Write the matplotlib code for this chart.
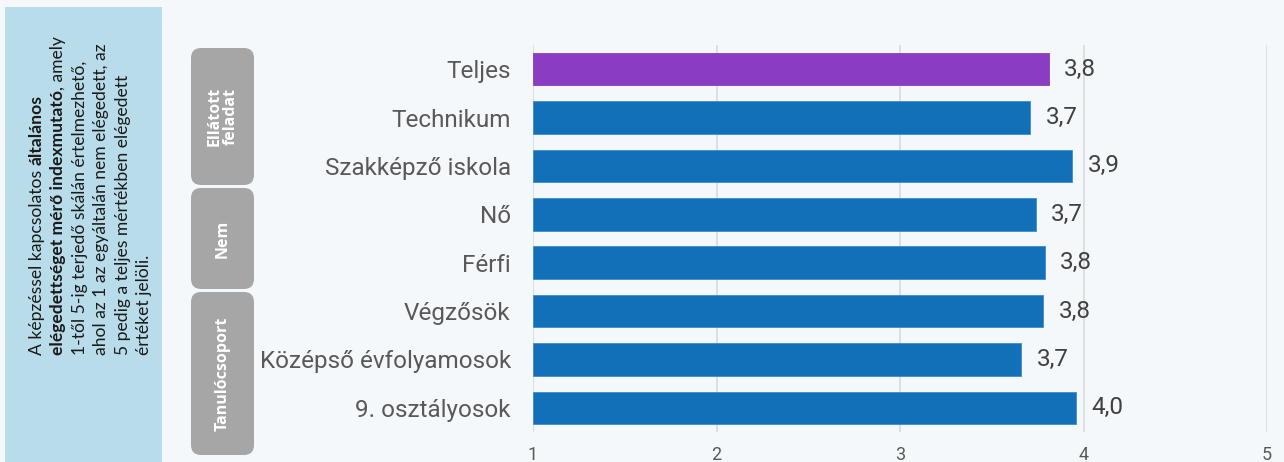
import matplotlib
matplotlib.use("Agg")
import matplotlib.pyplot as plt
from matplotlib.patches import FancyBboxPatch, Rectangle

# ---- data ----
categories = ["Teljes", "Technikum", "Szakképző iskola", "Nő", "Férfi",
              "Végzősök", "Középső évfolyamosok", "9. osztályosok"]
values = [3.81, 3.71, 3.94, 3.74, 3.79, 3.78, 3.66, 3.96]
bar_colors = ["#8a3cc3"] + ["#1170b8"] * 7
x_ticks = [1, 2, 3, 4, 5]
groups = ["Ellátott\nfeladat", "Nem", "Tanulócsoport"]

note_lines = [
    [("A képzéssel kapcsolatos ", "normal"), ("általános", "bold")],
    [("elégedettséget mérő indexmutató", "bold"), (", amely", "normal")],
    [("1-től 5-ig terjedő skálán értelmezhető,", "normal")],
    [("ahol az 1 az egyáltalán nem elégedett, az", "normal")],
    [("5 pedig a teljes mértékben elégedett", "normal")],
    [("értéket jelöli.", "normal")],
]

W, H = 1284, 462
BG = "#f5f8fa"
fig = plt.figure(figsize=(W / 100, H / 100), dpi=100, facecolor=BG)

# background / decoration axes in pixel coordinates
bg = fig.add_axes([0, 0, 1, 1])
bg.set_xlim(0, W)
bg.set_ylim(H, 0)
bg.axis("off")
bg.set_facecolor(BG)

# left note box
bg.add_patch(Rectangle((5, 7), 157, 460, facecolor="#b9dcea", edgecolor="none"))
line_x = [37, 58.5, 80, 101.5, 123, 144.5]
NOTE_FS = 12.6
for lx, parts in zip(line_x, note_lines):
    prev = None
    for txt, wt in parts:
        if prev is None:
            prev = bg.text(lx, 355, txt, rotation=90, ha="center", va="bottom",
                           fontsize=NOTE_FS, fontweight=wt, family="Lato",
                           color="#1a1a1a")
        else:
            prev = bg.annotate(txt, xy=(0, 1), xycoords=prev, rotation=90,
                               ha="left", va="bottom", fontsize=NOTE_FS,
                               fontweight=wt, family="Lato", color="#1a1a1a")

# grey group boxes
box_spans = [(48, 185), (188, 289), (292, 455)]
for (y0, y1), g in zip(box_spans, groups):
    bg.add_patch(FancyBboxPatch((191, y0), 63, (y1 - y0),
                                boxstyle="round,pad=0,rounding_size=10",
                                facecolor="#a6a6a6", edgecolor="none"))
    bg.text(222.5, (y0 + y1) / 2, g, rotation=90, ha="center", va="center",
            fontsize=11.5, fontweight="bold", color="white", family="Open Sans",
            linespacing=1.0, multialignment="center")

# main bar axes
ax = fig.add_axes([533 / W, 1 - 432 / H, (1267 - 533) / W, (432 - 45) / H])
ax.set_facecolor("none")
ypos = list(range(len(categories)))
ax.barh(ypos, [v - 1 for v in values], left=1, height=0.67, color=bar_colors,
        edgecolor=[c if i == 0 else "#3d8ccb" for i, c in enumerate(bar_colors)],
        linewidth=0.6, zorder=3)
ax.set_xlim(1, 5)
ax.set_ylim(len(categories) - 0.5, -0.5)
ax.set_xticks(x_ticks)
ax.set_xticklabels([str(t) for t in x_ticks], fontsize=13, color="#595959",
                   family="Roboto")
ax.set_yticks(ypos)
ax.set_yticklabels(categories, fontsize=17.5, color="#595959", family="Roboto")
ax.tick_params(axis="both", length=0)
ax.tick_params(axis="y", pad=16)
ax.tick_params(axis="x", pad=10)
ax.grid(axis="x", color="#d9d9d9", linewidth=1.2, zorder=0)
for s in ax.spines.values():
    s.set_visible(False)

for y, v in zip(ypos, values):
    ax.annotate(f"{v:.1f}".replace(".", ","), xy=(v, y), xytext=(11, 0),
                textcoords="offset points", ha="left", va="center",
                fontsize=17.5, color="#404040", family="Roboto", zorder=4)

fig.savefig("out.png", dpi=100, facecolor=BG)
